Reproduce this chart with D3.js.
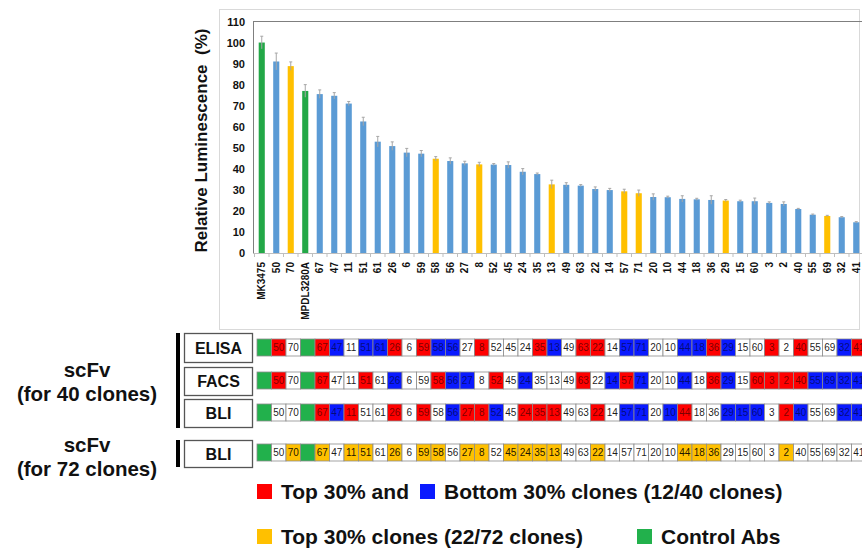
<!DOCTYPE html>
<html lang="en">
<head>
<meta charset="utf-8">
<title>Relative Luminescence</title>
<script src="https://d3js.org/d3.v7.min.js"></script>
<style>
body { margin: 0; background: #fff; }
text { font-family: Arial, "Liberation Sans", sans-serif; }
</style>
</head>
<body>
<div id="my_dataviz"></div>
<script>

// clone order along the x axis
var clones = ["MK3475","50","70","MPDL3280A","67","47","11","51","61","26","6","59","58","56","27","8","52","45","24","35","13","49","63","22","14","57","71","20","10","44","18","36","29","15","60","3","2","40","55","69","32","41"];

// relative luminescence (%) and error
var luminescence = [100, 91, 88.8, 77, 75.5, 74.7, 71, 62.5, 52.9, 50.8, 47.7, 47.2, 44.8, 43.7, 42.6, 42.1, 42, 41.8, 38.6, 37.5, 32.6, 32.4, 32, 30.4, 29.9, 29.3, 28.4, 26.6, 26.5, 25.7, 25.5, 25.2, 24.9, 24.6, 24.6, 23.8, 23.3, 20.9, 18.2, 17.6, 17, 14.6];
var errors = [3, 4, 2, 3, 2, 1.5, 1, 2, 2.5, 2, 2, 1.5, 1, 1.5, 1, 1, 0.5, 1.5, 1.5, 0.5, 2, 1, 0.5, 1, 0.8, 1, 1.5, 1.5, 0.5, 1.5, 0.5, 2, 0.5, 0.5, 1.5, 0.5, 1, 0.3, 0.3, 0.3, 0.3, 0.3];
// bar colour group: G control, O top 30% (72 clones), B other
var barGroup = "GBOGBBBBBBBBOBBOBBBBOBBBBOOBBBBBOBBBBBBOBB";

var yTicks = [0, 10, 20, 30, 40, 50, 60, 70, 80, 90, 100, 110];

// assay rows: G control, R top, B bottom, O top (72), W none
var assayNames = ["ELISA", "FACS", "BLI", "BLI"];
var assayRows = [
  "GRWGRBWBBRWRBBWRWWWRBWRRWBBWWBBRBWWRWRWWBR",
  "GRWGRWWRWBWWRBBWRWBWWWRWBRBWWBWRBWRRRRBBBB",
  "GWWGRBRWWRWRWBRRBWRRRWWRWBBWBRWWBBBWRBWWBB",
  "GWOGOWOOWOWOOWOOWOOOOWWOWWWWWOOOWWWWOWWWWW"
];

var legendRows = [
  [{c: "R", t: "Top 30% and"}, {c: "B", t: "Bottom 30% clones (12/40 clones)"}],
  [{c: "O", t: "Top 30% clones (22/72 clones)"}, {c: "G", t: "Control Abs"}]
];

var barColor = {G: "#23a847", O: "#ffc000", B: "#5b9bd5"};
var cellColor = {G: "#22b14c", R: "#ff0000", B: "#0a1aff", O: "#ffc000", W: "#ffffff"};

var svg = d3.select("#my_dataviz")
  .append("svg")
    .attr("width", 862)
    .attr("height", 550);

// chart outer frame
svg.append("rect")
  .attr("x", 219.5).attr("y", 9.5)
  .attr("width", 640).attr("height", 320)
  .attr("fill", "none")
  .attr("stroke", "#d9d9d9");

// scales
var x = d3.scaleBand()
  .domain(clones)
  .range([254.5, 254.5 + 14.5 * clones.length])
  .paddingInner(0.58)
  .paddingOuter(0.29);

var y = d3.scaleLinear()
  .domain([0, 110])
  .range([253, 21.5]);

// plot top border
svg.append("line")
  .attr("x1", 253).attr("x2", 862)
  .attr("y1", 21.5).attr("y2", 21.5)
  .attr("stroke", "#7f7f7f");

// Y axis
var yAxis = svg.append("g")
  .attr("transform", "translate(253,0)")
  .call(d3.axisLeft(y).tickValues(yTicks).tickSize(0).tickPadding(8));
yAxis.select(".domain").attr("stroke", "#7f7f7f");
yAxis.selectAll("text")
  .attr("font-size", "11px")
  .attr("font-weight", "bold")
  .attr("font-family", "Arial, 'Liberation Sans', sans-serif")
  .attr("fill", "#111");

// Y axis label
svg.append("text")
  .attr("transform", "translate(207,140.5) rotate(-90)")
  .attr("text-anchor", "middle")
  .attr("font-size", "17px")
  .attr("font-weight", "bold")
  .attr("fill", "#111")
  .attr("xml:space", "preserve")
  .text("Relative Luminescence  (%)");

// bars
svg.append("g")
  .selectAll("rect")
  .data(clones)
  .enter()
  .append("rect")
    .attr("x", function(d) { return x(d); })
    .attr("y", function(d, i) { return y(luminescence[i]); })
    .attr("width", x.bandwidth())
    .attr("height", function(d, i) { return y(0) - y(luminescence[i]); })
    .attr("fill", function(d, i) { return barColor[barGroup[i]]; });

// error bars
var eb = svg.append("g").attr("stroke", "#a6a6a6").attr("stroke-width", 1);
clones.forEach(function(d, i) {
  var cx = x(d) + x.bandwidth() / 2;
  eb.append("line")
    .attr("x1", cx).attr("x2", cx)
    .attr("y1", y(luminescence[i] - errors[i])).attr("y2", y(luminescence[i] + errors[i]));
  eb.append("line")
    .attr("x1", cx - 1.5).attr("x2", cx + 1.5)
    .attr("y1", y(luminescence[i] + errors[i])).attr("y2", y(luminescence[i] + errors[i]));
});

// X axis
var xAxis = svg.append("g")
  .attr("transform", "translate(0,253)")
  .call(d3.axisBottom(x).tickSize(0).tickPadding(0));
xAxis.select(".domain").attr("stroke", "#bfbfbf");
xAxis.selectAll(".tick text")
  .attr("transform", "translate(3.5,9) rotate(-90)")
  .attr("text-anchor", "end")
  .attr("dy", "0")
  .attr("y", 0)
  .attr("font-size", "10px")
  .attr("font-weight", "bold")
  .attr("font-family", "Arial, 'Liberation Sans', sans-serif")
  .attr("fill", "#111");
// small ticks between categories
svg.append("g")
  .selectAll("line")
  .data(clones)
  .enter()
  .append("line")
    .attr("x1", function(d) { return x(d) - x.step() * 0.29; })
    .attr("x2", function(d) { return x(d) - x.step() * 0.29; })
    .attr("y1", 253).attr("y2", 257)
    .attr("stroke", "#bfbfbf");

// assay table
var xc = d3.scaleBand()
  .domain(clones)
  .range([257, 257 + 14.5 * clones.length]);
var rowY = [339, 372, 404, 444];
var cellH = 17;
var boxes = [[333, 362], [367, 395], [399, 427], [440, 467]];

assayRows.forEach(function(row, r) {
  var g = svg.append("g");
  g.selectAll("rect")
    .data(clones)
    .enter()
    .append("rect")
      .attr("x", function(d) { return xc(d); })
      .attr("y", rowY[r])
      .attr("width", xc.bandwidth())
      .attr("height", cellH)
      .attr("fill", function(d, i) { return cellColor[row[i]]; })
      .attr("stroke", "#8c8c8c")
      .attr("stroke-width", 0.8);
  g.selectAll("text")
    .data(clones)
    .enter()
    .append("text")
      .attr("x", function(d) { return xc(d) + xc.bandwidth() / 2; })
      .attr("y", rowY[r] + cellH / 2 + 3.5)
      .attr("text-anchor", "middle")
      .attr("font-size", "10px")
      .attr("fill", "#000")
      .attr("fill-opacity", function(d, i) { return row[i] === "W" || row[i] === "O" ? 0.9 : 0.55; })
      .text(function(d, i) { return row[i] === "G" ? "" : d; });

  // label box
  svg.append("rect")
    .attr("x", 184.5).attr("y", boxes[r][0] + 0.5)
    .attr("width", 68).attr("height", boxes[r][1] - boxes[r][0])
    .attr("fill", "#fff")
    .attr("stroke", "#555")
    .attr("stroke-width", 1.3);
  svg.append("text")
    .attr("x", 218.5)
    .attr("y", (boxes[r][0] + boxes[r][1]) / 2 + 6)
    .attr("text-anchor", "middle")
    .attr("font-size", "16px")
    .attr("font-weight", "bold")
    .attr("fill", "#111")
    .text(assayNames[r]);
});

// group bars
svg.append("rect").attr("x", 176).attr("y", 333).attr("width", 4).attr("height", 95).attr("fill", "#000");
svg.append("rect").attr("x", 176).attr("y", 440).attr("width", 4).attr("height", 27).attr("fill", "#000");

// group labels
var groupLabels = [["scFv", 377], ["(for 40 clones)", 401], ["scFv", 452], ["(for 72 clones)", 476]];
svg.selectAll(".glabel")
  .data(groupLabels)
  .enter()
  .append("text")
    .attr("class", "glabel")
    .attr("x", 87)
    .attr("y", function(d) { return d[1]; })
    .attr("text-anchor", "middle")
    .attr("font-size", "20.5px")
    .attr("font-weight", "bold")
    .attr("fill", "#111")
    .text(function(d) { return d[0]; });

// legend
var legendX = [[257, 420], [257, 637]];
var legendBase = [499, 544];
legendRows.forEach(function(items, r) {
  items.forEach(function(it, k) {
    svg.append("rect")
      .attr("x", legendX[r][k]).attr("y", legendBase[r] - 15)
      .attr("width", 15).attr("height", 15)
      .attr("fill", cellColor[it.c]);
    svg.append("text")
      .attr("x", legendX[r][k] + 24)
      .attr("y", legendBase[r])
      .attr("font-size", "21px")
      .attr("font-weight", "bold")
      .attr("fill", "#111")
      .text(it.t);
  });
});

</script>
</body>
</html>
